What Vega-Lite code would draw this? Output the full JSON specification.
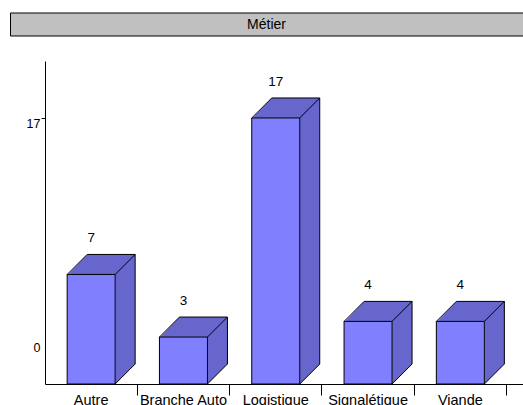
{
  "$schema": "https://vega.github.io/schema/vega-lite/v6.json",
  "padding": {"left": 10, "top": 12, "right": 0, "bottom": 0},
  "spacing": 24,
  "config": {
    "font": "Liberation Sans",
    "view": {"stroke": null},
    "axis": {"domainColor": "#000", "tickColor": "#000", "labelColor": "#000", "labelFont": "Liberation Sans", "labelFontSize": 12, "grid": false, "title": null}
  },
  "vconcat": [
    {
      "width": 478,
      "height": 23,
      "data": {"values": [{"titre": "Métier", "debut": 0, "fin": 1}]},
      "encoding": {
        "x": {"field": "debut", "type": "quantitative", "scale": {"domain": [0, 1], "nice": false, "zero": false}, "axis": null}
      },
      "layer": [
        {"mark": {"type": "rect", "fill": "#c0c0c0", "stroke": "#000", "strokeWidth": 1, "xOffset": -34.5, "x2Offset": 45},
         "encoding": {"x2": {"field": "fin"}}},
        {"mark": {"type": "text", "font": "Liberation Sans", "fontSize": 14, "color": "#000", "baseline": "middle", "align": "center", "dx": 221.5},
         "encoding": {"text": {"field": "titre", "type": "nominal"}}}
      ]
    },
    {
      "width": 478,
      "height": 323,
      "data": {"values": [
        {"metier": "Autre", "n": 7},
        {"metier": "Branche Auto", "n": 3},
        {"metier": "Logistique", "n": 17},
        {"metier": "Signalétique", "n": 4},
        {"metier": "Viande", "n": 4}
      ]},
      "encoding": {
        "x": {"field": "metier", "type": "nominal", "sort": null,
          "scale": {"paddingInner": 0, "paddingOuter": 0.0894, "align": 0},
          "axis": {"bandPosition": 1, "tickSize": 11, "labelPadding": -2, "labelAngle": 0, "labelFontSize": 14.5, "labelColor": "#000"}},
        "y": {"field": "n", "type": "quantitative",
          "scale": {"domain": [0, 20.64], "nice": false},
          "axis": {"values": [0, 17], "tickSize": 4, "labelFontSize": 12.5, "labelColor": "#000", "labelPadding": 1,
            "tickOpacity": {"condition": {"test": "datum.value === 0", "value": 0}, "value": 1},
            "labelOffset": {"condition": {"test": "datum.value === 0", "value": -37}, "value": 6},
            "labelBaseline": "middle", "minExtent": 35, "maxExtent": 35}}
      },
      "layer": [
        {"mark": {"type": "bar", "width": 20, "xOffset": 34, "y2Offset": -20, "fill": "#6666cc", "strokeWidth": 0},
         "encoding": {"y2": {"datum": 0}}},
        {"mark": {"type": "point", "shape": "M24,-21L24,0L44,-20L44,-21Z", "size": 4, "filled": true, "fill": "#6666cc", "strokeWidth": 0, "opacity": 1},
         "encoding": {"y": {"datum": 0}}},
        {"mark": {"type": "point", "shape": "M-24,1L44,1L44,-20L-4,-20Z", "size": 4, "filled": true, "fill": "#6666cc", "strokeWidth": 0, "opacity": 1}},
        {"mark": {"type": "bar", "width": 48, "fill": "#8080ff", "stroke": "#000", "strokeWidth": 1}},
        {"mark": {"type": "point", "shape": "M-24,0L-4,-20L44,-20L24,0", "size": 4, "filled": false, "stroke": "#000", "strokeWidth": 1, "opacity": 1}},
        {"mark": {"type": "rule", "xOffset": 44, "yOffset": -20, "y2Offset": -20, "color": "#000", "strokeWidth": 1},
         "encoding": {"y2": {"datum": 0}}},
        {"mark": {"type": "point", "shape": "M24,0L44,-20", "size": 4, "filled": false, "stroke": "#000", "strokeWidth": 1, "opacity": 1},
         "encoding": {"y": {"datum": 0}}},
        {"mark": {"type": "text", "dy": -36, "fontSize": 13.5, "color": "#000", "font": "Liberation Sans"},
         "encoding": {"text": {"field": "n", "type": "quantitative"}}}
      ]
    }
  ]
}
